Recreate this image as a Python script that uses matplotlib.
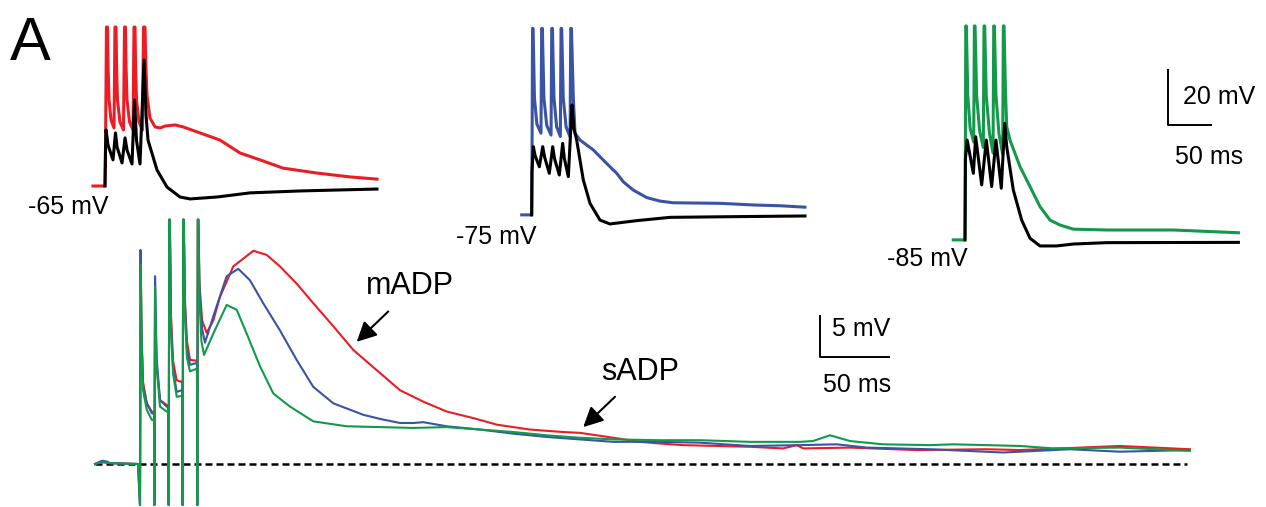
import matplotlib
matplotlib.use("Agg")
import matplotlib.pyplot as plt

plt.rcParams['font.family'] = ['Liberation Sans', 'DejaVu Sans']

# ---- data (ms, mV) ----
# top insets: control (black) vs colour trace at three holding potentials
in1_red_t = [-14, 0, 0.6, 1.7, 2.9, 3.6, 4.7, 7.0, 10.5, 11.6, 12.8, 13.5, 14.5, 17.4, 21.5, 22.7, 23.8, 24.5,
             25.6, 28.5, 32.6, 33.7, 34.9, 35.6, 36.6, 39.5, 43.6, 44.8, 46.5, 47.4, 48.8, 52.3, 58.2, 64, 69.8,
             81.4, 90.7, 110.5, 133.7, 157, 180.2, 207, 246.5, 285, 316.3]
in1_red_v = [-65, -65, -51.9, -7.2, -7.2, -22, -33.7, -41, -43.9, -7.2, -7.2, -22, -33.7, -41.7, -44.6, -7.2,
             -7.2, -22, -33.7, -41.7, -44.6, -7.2, -7.2, -22, -33.7, -41.7, -44.6, -7.2, -7.2, -20, -31.9, -40.3,
             -43.5, -43.9, -43.2, -42.8, -43.5, -45.7, -48.3, -53, -55.5, -58.5, -60.3, -61.7, -62.5]
in1_blk_t = [0, 0.6, 1.2, 3.5, 9.3, 12.2, 14, 19.8, 23.3, 25.6, 31.4, 34.3, 36.6, 40.7, 45.4, 47.7, 50,
             60.5, 72.1, 87.2, 98.9, 130.3, 168.6, 226.8, 316.3]
in1_blk_v = [-65, -51.9, -44.6, -50.1, -55.5, -45.7, -50.8, -56.6, -47.5, -51.9, -57, -33.7, -48.3, -57,
             -19.2, -39.2, -48.3, -59.2, -65.4, -69, -69.7, -69, -67.5, -66.8, -66.1]

in2_blue_t = [-11.6, 0, 0.3, 1.0, 1.6, 3.2, 6, 10.8, 11.6, 12.4, 14.2, 17.5, 22.5, 23.3, 24.1, 25.9, 29, 33.3,
              34.1, 34.9, 36.7, 40, 44.6, 45.4, 46.2, 48.4, 50.4, 56.2, 71.7, 87.2, 98.9, 106.6, 118.2, 133.7,
              149.2, 164.7, 219, 257.7, 290, 317.8]
in2_blue_v = [-75.5, -75.5, -60, -7.7, -7.7, -33, -42.5, -45.8, -7.7, -7.7, -33, -43, -46.5, -7.7, -7.7, -33,
              -43.5, -47, -7.7, -7.7, -33, -43.5, -47.1, -7.7, -7.7, -33, -45.8, -48.3, -51.9, -56.8, -60.4,
              -63.5, -66.5, -69.2, -70.5, -71.1, -71.3, -71.9, -72.2, -72.7]
in2_blk_t = [0, 0.3, 1.9, 4, 8.9, 12.8, 15, 20.5, 24.4, 26.5, 32.1, 36, 38, 42.6, 46.9, 49, 52.3, 60,
             67.8, 79.4, 91, 122.1, 160.8, 219, 317.8]
in2_blk_v = [-75.5, -60, -50.7, -54, -58, -50.7, -54.5, -60.4, -50.7, -55, -61, -49.5, -55, -61.6, -35.5,
             -44, -48.3, -62.8, -71.3, -77.4, -78.8, -77.6, -76.4, -76.2, -75.9]

in3_green_t = [-13.6, 0, 0.3, 0.9, 1.6, 3.2, 6, 10.1, 10.9, 11.7, 13.5, 17, 21.3, 22.1, 22.9, 24.7, 28.5, 32.6,
               33.4, 34.2, 36, 39.5, 43.8, 44.6, 45.4, 47, 48.5, 52.3, 64, 75.6, 87.2, 98.9, 110.5, 126, 164.8,
               242.3, 317.9]
in3_green_v = [-84.6, -84.6, -65, -6.8, -6.8, -32, -44, -49, -6.8, -6.8, -32, -45, -51, -6.8, -6.8, -32, -46,
               -53, -6.8, -6.8, -32, -46, -53.5, -6.8, -6.8, -30, -43.4, -48.3, -58, -65.2, -72.5, -77.4, -79.2,
               -80.7, -81, -81, -82]
in3_blk_t = [0, 0.5, 2.5, 9.7, 12.4, 19.4, 24.8, 31, 36, 42.2, 46.2, 48.5, 56.2, 65.9, 75.6, 87.2, 106.6,
             126, 164.8, 317.9]
in3_blk_v = [-84.6, -55, -48.3, -60.4, -47.1, -64.6, -48.3, -65.2, -48.3, -65.8, -42.2, -50.7, -66.5,
             -77.4, -84, -86.8, -86.8, -86.1, -85.6, -85.5]

# main panel: overlaid ADPs, mV relative to baseline
red_t = [-32.6, -27.5, -21.7, -1.4, 0, 0.5, 1.1, 2.2, 4.9, 8.5, 10.2, 10.4, 10.9, 12, 14.5, 19.3, 20.6, 20.8,
         21.2, 21.6, 22.5, 24, 26.6, 30.3, 30.7, 30.9, 31.3, 31.7, 32.6, 34, 36.2, 40.8, 41.3, 41.5, 41.9, 42.3,
         43.1, 45, 48.3, 53.1, 58, 67.6, 82.1, 91.8, 101.4, 113.5, 125.6, 140.1, 154.6, 173.9, 188.4, 205.3,
         222.2, 241.5, 258.5, 282.6, 306.7, 318.8, 343, 362.3, 376.8, 393.7, 442, 466.1, 475.8, 480.7, 514.5,
         562.8, 613.5, 637.7, 710.1, 760.8]
red_v = [0, 0.3, 0.1, 0, -5, 24.5, 16, 10, 7.4, 6.4, 6.3, -5, 18.8, 12, 7.8, 7.2, 7.1, -5, 29.8, 29.8, 18, 12.5,
         10.2, 10.0, 10.1, -5, 29.8, 29.8, 20, 15, 12.7, 12.6, 12.7, -5, 29.8, 29.8, 22, 17.5, 16.0, 17.5, 20.4,
         24.1, 26.0, 25.5, 24.1, 22.0, 19.6, 16.8, 13.9, 11.1, 9.0, 7.6, 6.4, 5.6, 4.8, 4.2, 3.9, 3.8, 3.2, 2.7,
         2.5, 2.3, 2.1, 1.9, 2.3, 1.9, 2.0, 1.7, 1.8, 1.7, 2.2, 1.8]
blue_t = [-32.6, -27.5, -24, -21.7, -1.4, 0, 0.4, 1.0, 2.2, 4.9, 8.5, 10.2, 10.4, 10.9, 12, 14.5, 19.3, 20.6,
          20.8, 21.2, 21.6, 22.5, 24, 26.6, 30.3, 30.7, 30.9, 31.3, 31.7, 32.6, 34, 36.2, 40.8, 41.3, 41.5, 41.9,
          42.3, 43.1, 45, 47.1, 53.1, 62.8, 71.2, 79.7, 89.3, 101.4, 113.5, 125.6, 140.1, 161.8, 173.9, 188.4,
          198, 205.3, 222.2, 246.4, 270.5, 294.7, 318.8, 343, 376.8, 405.8, 442, 478.3, 504.8, 526.6, 572.4,
          625.5, 673.9, 710.1, 760.8]
blue_v = [0, 0.4, 0.3, 0.1, 0, -5, 26.1, 16, 9.5, 7.4, 6.2, 6.1, -5, 22.9, 13, 7.8, 7.0, 7.0, -5, 29.8, 29.8,
          17, 11.5, 8.8, 9.0, 9.2, -5, 29.8, 29.8, 19, 14, 12.1, 12.3, 12.4, -5, 29.8, 29.8, 21, 16.5, 14.8,
          18.0, 22.9, 23.8, 22.4, 19.6, 16.3, 12.7, 9.4, 7.4, 6.0, 5.5, 5.0, 5.0, 5.1, 4.6, 4.2, 3.7, 3.3, 3.0,
          2.7, 2.7, 2.6, 2.2, 2.3, 2.4, 2.0, 1.8, 1.4, 1.8, 1.5, 1.7]
green_t = [-32.6, -27.5, -21.7, -1.4, 0, 0.6, 1.2, 2.2, 4.9, 8.5, 10.2, 10.4, 10.9, 12, 14.5, 19.3, 20.6, 20.8,
           21.2, 21.6, 22.5, 24, 26.6, 30.3, 30.7, 30.9, 31.3, 31.7, 32.6, 34, 36.2, 40.8, 41.3, 41.5, 41.9,
           42.3, 43.1, 44.5, 46.4, 53.1, 62.8, 70.1, 77.3, 87, 96.6, 108.7, 125.6, 149.8, 173.9, 198, 222.2,
           246.4, 270.5, 294.7, 318.8, 343, 376.8, 405.8, 442, 478.3, 487.6, 500, 514.5, 538.4, 572.4, 589.3,
           637.7, 661.8, 710.1, 760.8]
green_v = [0, 0.2, 0.1, 0, -5, 24.3, 15, 9, 6.6, 5.4, 5.3, -5, 21.6, 12, 7.0, 6.4, 6.4, -5, 29.8, 29.8, 16, 11,
           8.2, 8.3, 8.5, -5, 29.8, 29.8, 18, 13, 11.3, 11.6, 11.7, -5, 29.8, 29.8, 20, 15, 13.3, 15.9, 19.4,
           18.8, 15.9, 11.9, 8.6, 7.0, 5.2, 4.6, 4.5, 4.4, 4.5, 4.2, 3.9, 3.5, 3.2, 3.0, 2.9, 2.9, 2.7, 2.7, 2.8,
           3.5, 2.8, 2.4, 2.3, 2.4, 2.2, 1.9, 2.0, 1.6]

hold_labels = ["-65 mV", "-75 mV", "-85 mV"]

RED = "#ec1c24"
BLUE = "#3a53a4"
GREEN = "#13994a"

W, H = 1266, 507
fig = plt.figure(figsize=(W / 100, H / 100), dpi=100)


# overlay axes covering the whole figure, placed so that (0 ms, v0) sits at pixel (x0, y0)
def overlay(x0, y0, v0, px_ms, px_mv):
    ax = fig.add_axes([0, 0, 1, 1])
    ax.set_xlim(-x0 / px_ms, (W - x0) / px_ms)
    ax.set_ylim(v0 - (H - y0) / px_mv, v0 + y0 / px_mv)
    ax.axis("off")
    ax.patch.set_alpha(0)
    return ax


# top insets
ins = [overlay(105, 186, -65, 0.86, 2.75),
       overlay(531.7, 186, -65, 0.86, 2.75),
       overlay(965, 186, -65, 0.86, 2.75)]
pairs = [(in1_red_t, in1_red_v, in1_blk_t, in1_blk_v, RED),
         (in2_blue_t, in2_blue_v, in2_blk_t, in2_blk_v, BLUE),
         (in3_green_t, in3_green_v, in3_blk_t, in3_blk_v, GREEN)]
label_pos = [(3.5, -72.6), (5.0, -83.5), (3.5, -91.5)]
for ax, (ct, cv, bt, bv, col), lab, (lx, ly) in zip(ins, pairs, hold_labels, label_pos):
    ax.plot(ct, cv, color=col, lw=2.2, solid_joinstyle="round")
    ax.plot(bt, bv, color="black", lw=2.2, solid_joinstyle="round")
    ax.text(lx, ly, lab, ha="right", va="center", fontsize=18)

# inset scale bar
a3 = ins[2]
a3.plot([236, 236, 286], [-22.8, -42.8, -42.8], color="black", lw=1.4)
a3.text(253.5, -32.6, "20 mV", ha="left", va="center", fontsize=18)
a3.text(283.8, -54.5, "50 ms", ha="center", va="center", fontsize=18)

# main panel
ax = overlay(140, 464, 0, 1.38, 8.2)
ax.plot([-32.6, 758.7], [0, 0], color="black", lw=1.8, dashes=(2.8, 1.6))
ax.plot(red_t, red_v, color=RED, lw=1.5)
ax.plot(blue_t, blue_v, color=BLUE, lw=1.5)
ax.plot(green_t, green_v, color=GREEN, lw=1.5)

ax.plot([492.7, 492.7, 542.7], [18.05, 13.05, 13.05], color="black", lw=1.4)
ax.text(501.4, 16.5, "5 mV", ha="left", va="center", fontsize=18)
ax.text(519.5, 9.6, "50 ms", ha="center", va="center", fontsize=18)

arrow = dict(arrowstyle="-|>,head_length=0.6,head_width=0.3", color="black", lw=1.5,
             shrinkA=0, shrinkB=0, mutation_scale=20)
ax.annotate("", xy=(157, 14.9), xytext=(179.9, 18.6), arrowprops=arrow)
ax.annotate("", xy=(321.2, 4.5), xytext=(344.2, 8.2), arrowprops=arrow)
ax.text(195.7, 21.7, "mADP", ha="center", va="center", fontsize=22)
ax.text(362.3, 11.2, "sADP", ha="center", va="center", fontsize=22)

fig.text(10 / W, (H - 60) / H, "A", fontsize=44, ha="left", va="baseline")

fig.savefig("out.png", dpi=100)
